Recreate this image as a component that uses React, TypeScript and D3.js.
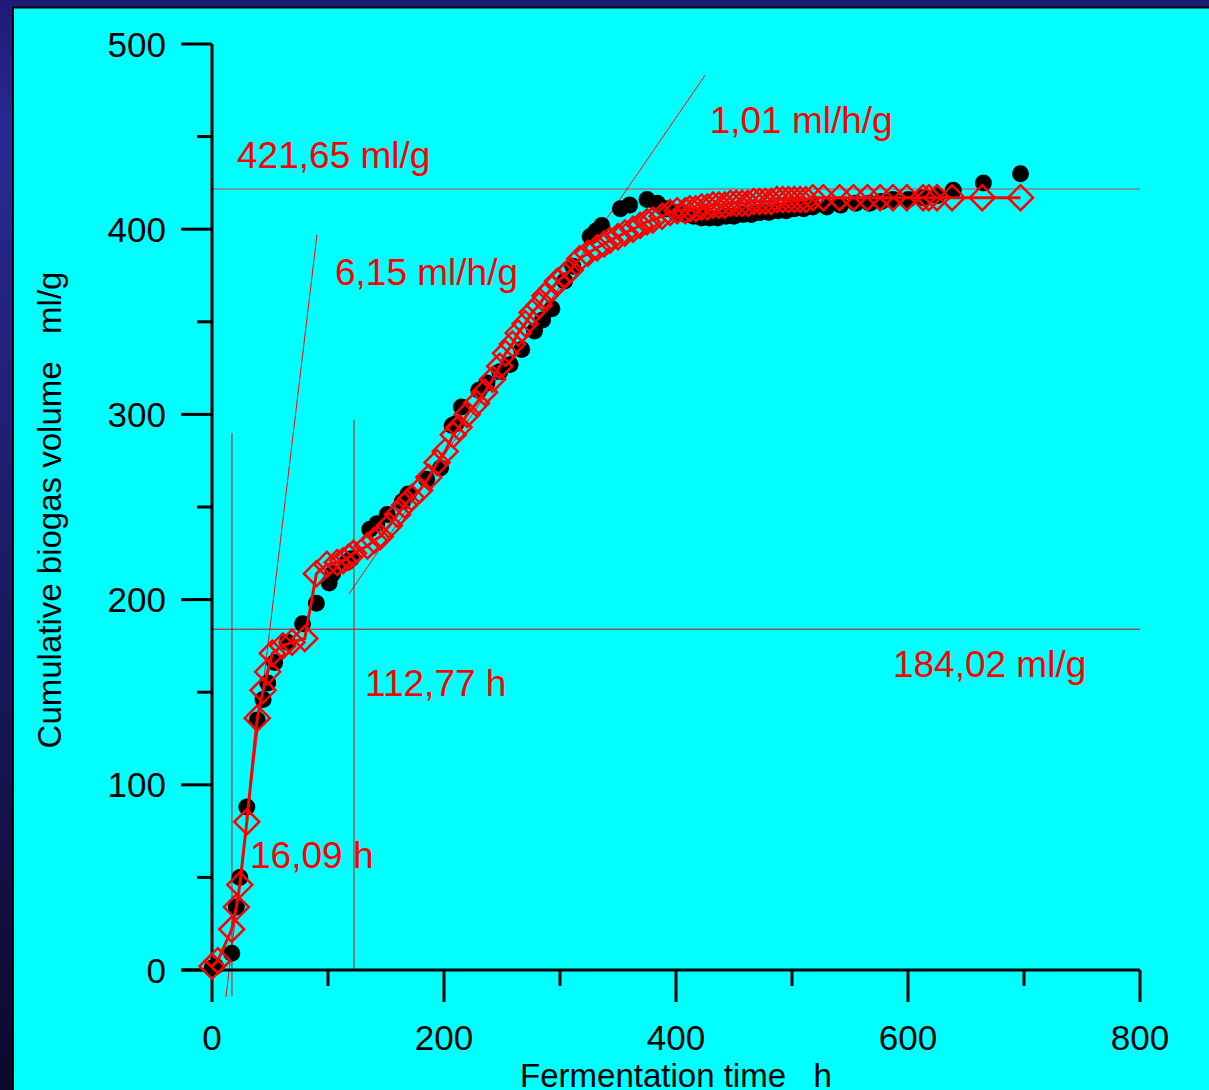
import React from "react";
import * as d3 from "d3";

// measured cumulative biogas (black dots)
const measuredTime = [0, 3, 17, 21, 24, 30, 39, 44, 48, 54, 65, 78, 90, 101, 104, 116, 120, 136, 142, 151, 164, 169, 185, 197, 207, 210, 215, 230, 237, 248, 257, 267, 278, 285, 293, 304, 311, 326, 331, 336, 352, 360, 375, 384, 392, 400, 408, 415, 422, 429, 436, 443, 450, 458, 465, 472, 480, 488, 495, 502, 510, 518, 530, 542, 555, 567, 577, 587, 600, 613, 625, 639, 665, 697];
const measuredVol = [1, 2, 9, 34, 50, 88, 135, 146, 155, 166, 177, 187, 198, 209, 214, 220, 222, 238, 241, 246, 253, 257, 265, 271, 294, 295, 304, 313, 317, 323, 327, 335, 345, 351, 357, 372, 380, 396, 399, 402, 411, 413, 416, 414, 411, 409, 408, 407, 406, 406, 406, 407, 407, 408, 408, 409, 409, 410, 410, 411, 411, 412, 412, 413, 414, 414, 415, 416, 416, 417, 418, 421, 425, 430];

// model curve (red diamonds)
const modelTime = [0, 5, 17, 21, 24, 30, 39, 44, 48, 52, 61, 69, 80, 90, 99, 108, 113, 118, 122, 134, 140, 145, 153, 160, 166, 172, 179, 187, 194, 201, 208, 213, 220, 228, 235, 242, 248, 253, 259, 264, 270, 276, 282, 287, 293, 298, 304, 309, 317, 324, 332, 338, 343, 350, 356, 363, 369, 375, 380, 388, 395, 401, 408, 412, 417, 422, 427, 432, 437, 442, 447, 452, 457, 462, 467, 472, 477, 482, 487, 492, 497, 502, 507, 512, 518, 527, 541, 553, 565, 576, 587, 599, 613, 618, 625, 638, 664, 697];
const modelVol = [2, 5, 22, 34, 46, 80, 136, 151, 161, 171, 175, 177, 179, 214, 219, 220, 221, 223, 225, 229, 232, 234, 240, 246, 251, 255, 259, 266, 274, 280, 289, 293, 300, 306, 312, 319, 326, 333, 338, 344, 349, 355, 359, 364, 368, 372, 375, 378, 384, 387, 390, 392, 394, 396, 398, 400, 402, 404, 405, 407, 409, 410, 410, 411, 411, 412, 412, 413, 413, 413, 414, 414, 414, 414, 415, 415, 415, 415, 416, 416, 416, 416, 416, 416, 417, 417, 417, 417, 417, 417, 417, 417, 417, 417, 417, 417, 417, 417];

const xTicksMajor = [0, 200, 400, 600, 800];
const xTicksMinor = [100, 300, 500, 700];
const yTicksMajor = [0, 100, 200, 300, 400, 500];
const yTicksMinor = [50, 150, 250, 350, 450];

// horizontal / vertical guide lines
const hGuides = [421.65, 184.02];
const vGuideTime = [17.2, 122.4];
const vGuideTop = [290, 297];
const vGuideBottom = [-14, 0];
// tangents [h1, v1, h2, v2]
const tangentA = [12, -14.6, 90.5, 397];
const tangentB = [118, 203, 425, 483];

const labels = ["421,65 ml/g", "1,01 ml/h/g", "6,15 ml/h/g", "112,77 h", "184,02 ml/g", "16,09 h"];
const labelTime = [21.6, 429, 106, 132, 587, 32.8];
const labelVol = [433, 452, 370, 148, 158, 55];

const W = 1209;
const H = 1090;

export default function App() {
  const x = d3.scaleLinear().domain([0, 800]).range([212, 1140]);
  const y = d3.scaleLinear().domain([0, 500]).range([970, 44]);

  const modelPts = modelTime.map((t, i) => [t, modelVol[i]] as [number, number]);
  const line = d3
    .line<[number, number]>()
    .x((d) => x(d[0]))
    .y((d) => y(d[1]));

  const font = "'Liberation Sans', Arial, sans-serif";
  const dia = 12.5;

  return (
    <svg
      width={W}
      height={H}
      style={{ position: "absolute", left: 0, top: 0, display: "block" }}
    >
      <defs>
        <linearGradient id="bg" x1="0" y1="0" x2="0" y2="1">
          <stop offset="0%" stopColor="#1f1a78" />
          <stop offset="12%" stopColor="#2a2994" />
          <stop offset="100%" stopColor="#0a0a2c" />
        </linearGradient>
      </defs>
      <rect x={0} y={0} width={W} height={H} fill="url(#bg)" />
      <rect x={13} y={7.5} width={W} height={H} fill="#00ffff" stroke="#000" strokeWidth={2} />

      {/* guide lines */}
      <line x1={x(0)} x2={x(800)} y1={y(hGuides[0])} y2={y(hGuides[0])} stroke="#8a7f7f" strokeWidth={1.5} />
      <line x1={x(0)} x2={x(800)} y1={y(hGuides[1])} y2={y(hGuides[1])} stroke="#e00000" strokeWidth={1} />
      {vGuideTime.map((t, i) => (
        <line key={i} x1={x(t)} x2={x(t)} y1={y(vGuideTop[i])} y2={y(vGuideBottom[i])} stroke="#e00000" strokeWidth={1} />
      ))}
      {[tangentA, tangentB].map((d, i) => (
        <line key={i} x1={x(d[0])} y1={y(d[1])} x2={x(d[2])} y2={y(d[3])} stroke="#ff0000" strokeWidth={1} />
      ))}

      {/* axes */}
      <g stroke="#000" strokeWidth={3}>
        <line x1={x(0)} x2={x(0)} y1={y(500)} y2={y(0)} />
        <line x1={x(0) - 31} x2={x(800)} y1={y(0)} y2={y(0)} />
        {yTicksMajor.map((v) => (
          <line key={v} x1={x(0) - 31} x2={x(0)} y1={y(v)} y2={y(v)} />
        ))}
        {yTicksMinor.map((v) => (
          <line key={v} x1={x(0) - 15} x2={x(0)} y1={y(v)} y2={y(v)} />
        ))}
        {xTicksMajor.map((t) => (
          <line key={t} x1={x(t)} x2={x(t)} y1={y(0)} y2={y(0) + 32} />
        ))}
        {xTicksMinor.map((t) => (
          <line key={t} x1={x(t)} x2={x(t)} y1={y(0)} y2={y(0) + 16} />
        ))}
      </g>
      <g fontFamily={font} fontSize={35} fill="#000">
        {yTicksMajor.map((v) => (
          <text key={v} x={x(0) - 46} y={y(v) + 12.5} textAnchor="end">
            {v}
          </text>
        ))}
        {xTicksMajor.map((t) => (
          <text key={t} x={x(t)} y={y(0) + 80} textAnchor="middle">
            {t}
          </text>
        ))}
      </g>
      <text
        x={676}
        y={1087}
        textAnchor="middle"
        fontFamily={font}
        fontSize={33}
        style={{ whiteSpace: "pre" }}
      >
        Fermentation time   h
      </text>
      <text
        transform="translate(61,510) rotate(-90)"
        textAnchor="middle"
        fontFamily={font}
        fontSize={33}
        style={{ whiteSpace: "pre" }}
      >
        Cumulative biogas volume   ml/g
      </text>

      {/* measured */}
      {measuredTime.map((t, i) => (
        <circle key={i} cx={x(t)} cy={y(measuredVol[i])} r={8.5} fill="#000" />
      ))}

      {/* model */}
      <path d={line(modelPts) || ""} fill="none" stroke="#ff0000" strokeWidth={3} />
      {modelPts.map((d, i) => {
        const cx = x(d[0]);
        const cy = y(d[1]);
        return (
          <path
            key={i}
            d={`M${cx},${cy - dia}L${cx + dia},${cy}L${cx},${cy + dia}L${cx - dia},${cy}Z`}
            fill="none"
            stroke="#ff0000"
            strokeWidth={2.5}
          />
        );
      })}

      {/* annotations */}
      <g fontFamily={font} fontSize={37} fill="#ff0000">
        {labels.map((s, i) => (
          <text key={i} x={x(labelTime[i])} y={y(labelVol[i])}>
            {s}
          </text>
        ))}
      </g>
    </svg>
  );
}
